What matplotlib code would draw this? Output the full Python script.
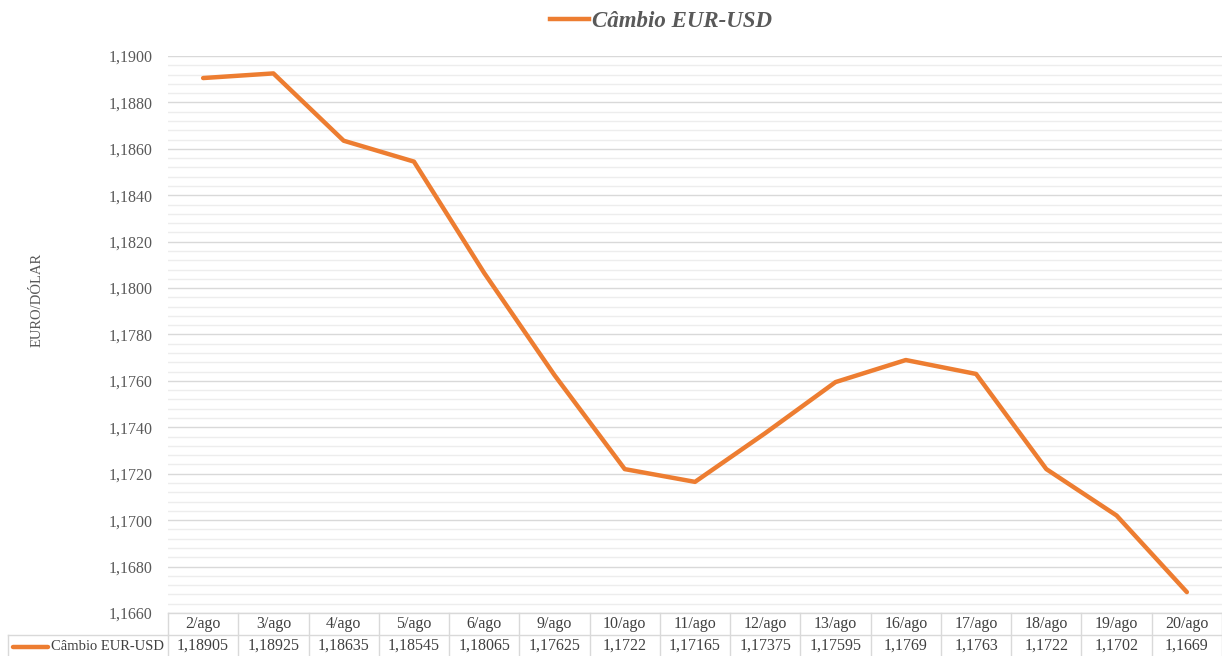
import matplotlib
matplotlib.use("Agg")
import matplotlib.pyplot as plt
from matplotlib.ticker import MultipleLocator, FuncFormatter
from matplotlib.lines import Line2D
import matplotlib.transforms as mtransforms

dates = ["2/ago", "3/ago", "4/ago", "5/ago", "6/ago", "9/ago", "10/ago", "11/ago",
         "12/ago", "13/ago", "16/ago", "17/ago", "18/ago", "19/ago", "20/ago"]
values = [1.18905, 1.18925, 1.18635, 1.18545, 1.18065, 1.17625, 1.1722, 1.17165,
          1.17375, 1.17595, 1.1769, 1.1763, 1.1722, 1.1702, 1.1669]
value_labels = ["1,18905", "1,18925", "1,18635", "1,18545", "1,18065", "1,17625", "1,1722",
                "1,17165", "1,17375", "1,17595", "1,1769", "1,1763", "1,1722", "1,1702", "1,1669"]
series_name = "Câmbio EUR-USD"
y_title = "EURO/DÓLAR"

FONT = ["Liberation Serif", "DejaVu Serif"]
plt.rcParams['font.family'] = FONT

W, H = 1222, 656
fig = plt.figure(figsize=(W / 100, H / 100), dpi=100)

left, right, top, bottom = 168, 1222, 56, 613
ax = fig.add_axes([left / W, 1 - bottom / H, (right - left) / W, (bottom - top) / H])

color = "#ED7D31"
x = list(range(len(values)))
ax.plot(x, values, color=color, lw=3.2, solid_capstyle="round", solid_joinstyle="round", zorder=3)

ax.set_xlim(-0.5, len(values) - 0.5)
ax.set_ylim(1.1660, 1.1900)
ax.yaxis.set_major_locator(MultipleLocator(0.002))
ax.yaxis.set_minor_locator(MultipleLocator(0.0004))
ax.yaxis.set_major_formatter(FuncFormatter(lambda v, p: f"{v:.4f}".replace(".", ",")))
ax.grid(which="major", axis="y", color="#D9D9D9", lw=1.0, zorder=0)
ax.grid(which="minor", axis="y", color="#EDEDED", lw=1.0, zorder=0)
ax.set_xticks([])
for s in ax.spines.values():
    s.set_visible(False)
ax.tick_params(axis="y", which="both", length=0, pad=11, labelsize=11.5, labelcolor="#595959")

fig.text(37 / W, 1 - 300 / H, y_title, rotation=90, ha="center", va="center",
         fontsize=10.5, color="#595959")

# legend title at top
fig.legend(handles=[Line2D([], [], color=color, lw=3.2)], labels=[series_name],
           loc="center", bbox_to_anchor=(661 / W, 1 - 21 / H), frameon=False,
           handlelength=1.7, handletextpad=0.15,
           prop=dict(family=FONT, weight="bold", style="italic", size=16.5))
for t in fig.legends[0].get_texts():
    t.set_color("#595959")

# data table
trans = mtransforms.blended_transform_factory(ax.transData, fig.transFigure)
row1_top = 1 - 613 / H
row1_bot = 1 - 635 / H
row2_bot = 1 - 657 / H
gcol = "#D9D9D9"
n = len(values)
for i in range(n + 1):
    ax.add_line(Line2D([i - 0.5, i - 0.5], [row2_bot, row1_top], transform=trans,
                       color=gcol, lw=1, clip_on=False))
ax.add_line(Line2D([-0.5, n - 0.5], [row1_top, row1_top], transform=trans, color=gcol, lw=1, clip_on=False))
ax.add_line(Line2D([-0.5, n - 0.5], [row1_bot, row1_bot], transform=trans, color=gcol, lw=1, clip_on=False))
fig.add_artist(Line2D([8 / W, left / W], [row1_bot, row1_bot], color=gcol, lw=1))
fig.add_artist(Line2D([8 / W, 8 / W], [row2_bot, row1_bot], color=gcol, lw=1))
for i in range(n):
    ax.text(i, (row1_top + row1_bot) / 2, dates[i], transform=trans, ha="center", va="center",
            fontsize=11.5, color="#404040", clip_on=False)
    ax.text(i, (row1_bot + row2_bot) / 2 + 0.001, value_labels[i], transform=trans, ha="center",
            va="center", fontsize=11.5, color="#404040", clip_on=False)
fig.add_artist(Line2D([13 / W, 48 / W], [1 - 647 / H, 1 - 647 / H], color=color, lw=3.2,
                      solid_capstyle="round"))
fig.text(164 / W, 1 - 646 / H, series_name, ha="right", va="center", fontsize=10.5, color="#404040")

fig.savefig("out.png", dpi=100)
